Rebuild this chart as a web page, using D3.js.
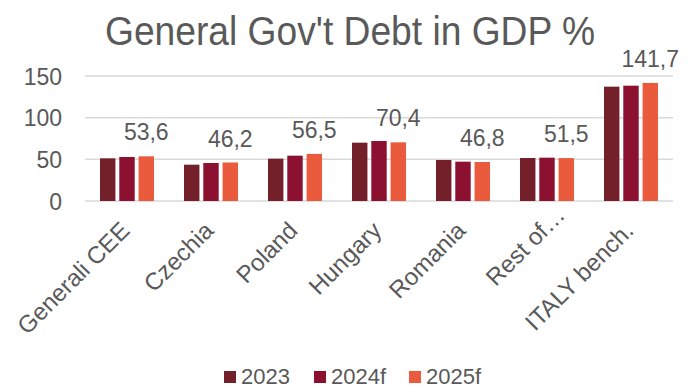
<!DOCTYPE html>
<html>
<head>
<meta charset="utf-8">
<script src="https://cdn.jsdelivr.net/npm/d3@7"></script>
<style>
  body { margin: 0; background: #fff; }
  text { font-family: "Liberation Sans", Arial, sans-serif; fill: #595959; }
</style>
</head>
<body>
<svg id="chart" width="689" height="389"></svg>
<script>
// data
var categories = ['Generali CEE', 'Czechia', 'Poland', 'Hungary', 'Romania', 'Rest of\u2026', 'ITALY bench.'];
var series = ['2023', '2024f', '2025f'];
var v2023 = [51.2, 43.6, 50.8, 70.0, 49.2, 51.6, 137.2];
var v2024 = [52.8, 45.6, 54.4, 72.0, 47.2, 52.0, 138.4];
var v2025 = [53.6, 46.2, 56.5, 70.4, 46.8, 51.5, 141.7];
var yTicks = [0, 50, 100, 150];
var colors = ['#74202A', '#8C1131', '#EA5B3D'];

var values = [v2023, v2024, v2025];
var svg = d3.select('#chart');
var plotLeft = 85, plotRight = 673, plotTop = 76, plotBottom = 201;

var x = d3.scaleBand().domain(categories).range([plotLeft, plotRight]);
var x1 = d3.scaleBand().domain(series).range([x.bandwidth() / 2 - 27, x.bandwidth() / 2 + 27]).paddingInner(0.2);
var y = d3.scaleLinear().domain([0, 150]).range([plotBottom, plotTop]);

svg.append('text')
  .attr('x', 105).attr('y', 45)
  .attr('textLength', 490).attr('lengthAdjust', 'spacingAndGlyphs')
  .style('font-size', '40px')
  .text("General Gov't Debt in GDP %");

// grid
svg.selectAll('.grid').data(yTicks).enter().append('line')
  .attr('x1', plotLeft).attr('x2', plotRight)
  .attr('y1', function(d) { return y(d); })
  .attr('y2', function(d) { return y(d); })
  .style('stroke', '#D9D9D9').style('stroke-width', 1.5);

svg.selectAll('.ytick').data(yTicks).enter().append('text')
  .attr('x', 62).attr('y', function(d) { return y(d) + 8.5; })
  .attr('text-anchor', 'end')
  .style('font-size', '23px')
  .text(function(d) { return d; });

// bars
var groups = svg.selectAll('.grp').data(categories).enter().append('g')
  .attr('transform', function(d) { return 'translate(' + x(d) + ',0)'; });

groups.selectAll('rect')
  .data(function(d, i) { return series.map(function(s, j) { return { s: s, v: values[j][i], j: j }; }); })
  .enter().append('rect')
  .attr('x', function(d) { return x1(d.s); })
  .attr('width', x1.bandwidth())
  .attr('y', function(d) { return y(d.v); })
  .attr('height', function(d) { return plotBottom - y(d.v); })
  .style('fill', function(d) { return colors[d.j]; });

// labels on the 2025f series
groups.append('text')
  .attr('x', x1('2025f') + x1.bandwidth() / 2)
  .attr('y', function(d, i) { return y(v2025[i]) - 16; })
  .attr('text-anchor', 'middle')
  .style('font-size', '23px')
  .text(function(d, i) { return String(v2025[i]).replace('.', ','); });

// x labels (the truncated one sits a bit further along its line, as in Excel)
svg.selectAll('.xlab').data(categories).enter().append('text')
  .attr('transform', function(d) { return 'translate(' + (x(d) + x.bandwidth() / 2 + 4) + ',' + 232 + ') rotate(-45)'; })
  .attr('dx', function(d) { return d.indexOf('\u2026') >= 0 ? 22 : 0; })
  .attr('text-anchor', 'end')
  .style('font-size', '24px')
  .text(function(d) { return d; });

// legend
var legendX = [224, 314, 409];
var leg = svg.selectAll('.leg').data(series).enter().append('g')
  .attr('transform', function(d, i) { return 'translate(' + legendX[i] + ',371)'; });
leg.append('rect').attr('width', 12).attr('height', 12).style('fill', function(d, i) { return colors[i]; });
leg.append('text').attr('x', 17).attr('y', 13).style('font-size', '22px').text(function(d) { return d; });
</script>
</body>
</html>
